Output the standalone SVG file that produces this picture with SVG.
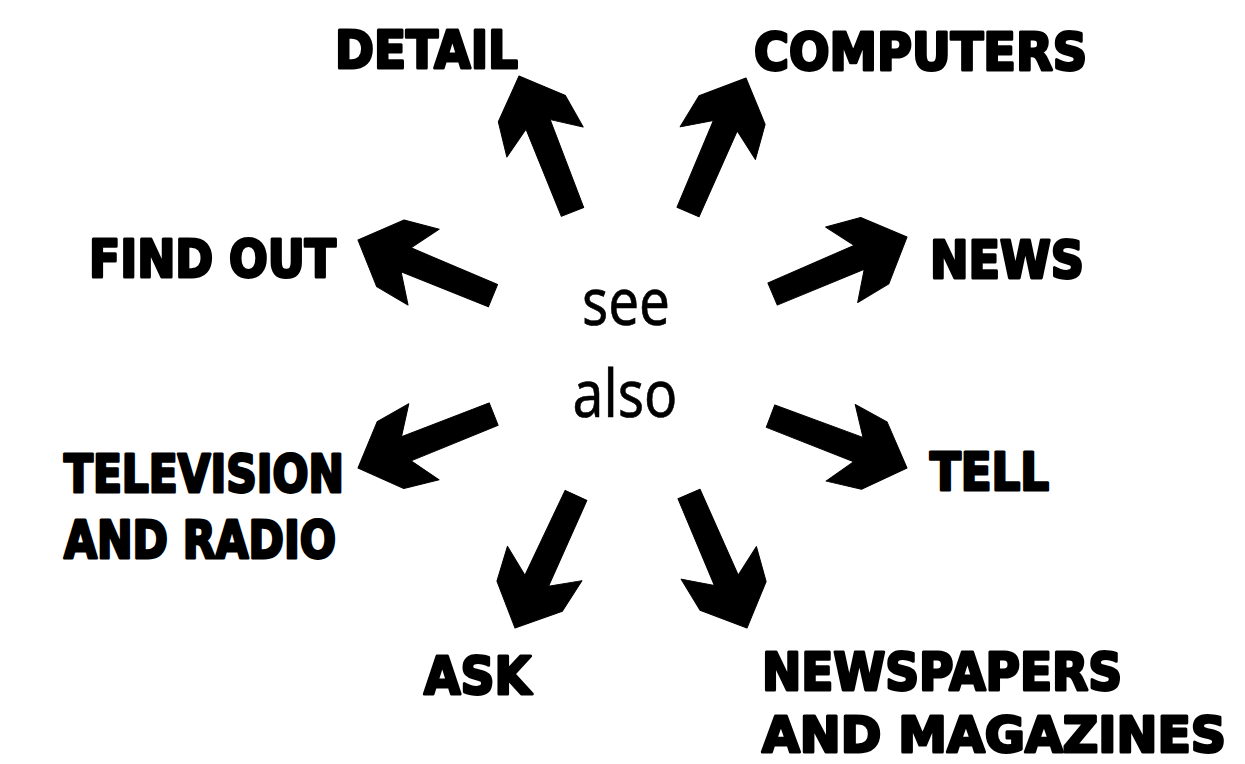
<svg xmlns="http://www.w3.org/2000/svg" xmlns:xlink="http://www.w3.org/1999/xlink" width="1245" height="764" viewBox="0 0 1245 764">
  <style>
    .lbl { font-family: "DejaVu Sans", "Liberation Sans", sans-serif; font-weight: bold; font-size: 51px; fill: #000; stroke: #000; stroke-width: 3; stroke-linejoin: round; }
    .center { font-family: "Noto Sans", "Open Sans", sans-serif; font-size: 66px; fill: #000; stroke: #000; stroke-width: 0.6; text-anchor: middle; }
    .arrow { fill: #000; stroke: #000; stroke-width: 1; stroke-linejoin: round; }
  </style>
  <defs>
    <polygon id="arr" class="arrow" points="0,0 -35,36 -71,41 -52,13 -146,12 -146,-12 -52,-13 -71,-41 -35,-36"/>
  </defs>
  <rect width="1245" height="764" fill="#fff"/>

  <g id="connectors">
    <use xlink:href="#arr" href="#arr" transform="translate(519,76) rotate(-111.5)"/>
    <use xlink:href="#arr" href="#arr" transform="translate(746,78) rotate(-66.6)"/>
    <use xlink:href="#arr" href="#arr" transform="translate(907,237) rotate(-23)"/>
    <use xlink:href="#arr" href="#arr" transform="translate(907,468) rotate(20.8)"/>
    <use xlink:href="#arr" href="#arr" transform="translate(358,468) rotate(158.3)"/>
    <use xlink:href="#arr" href="#arr" transform="translate(358,240) rotate(-157.6)"/>
    <use xlink:href="#arr" href="#arr" transform="translate(515,628) rotate(114.7)"/>
    <use xlink:href="#arr" href="#arr" transform="translate(747,628) rotate(66.6)"/>
  </g>

  <g id="center">
    <text class="center" x="626" y="325" textLength="88" lengthAdjust="spacingAndGlyphs">see</text>
    <text class="center" x="625" y="417" textLength="105" lengthAdjust="spacingAndGlyphs">also</text>
  </g>

  <g id="detail"><text class="lbl" x="335" y="68" textLength="183" lengthAdjust="spacingAndGlyphs">DETAIL</text></g>
  <g id="computers"><text class="lbl" x="754" y="70" textLength="333" lengthAdjust="spacingAndGlyphs">COMPUTERS</text></g>
  <g id="find-out"><text class="lbl" x="89" y="277" textLength="247" lengthAdjust="spacingAndGlyphs">FIND OUT</text></g>
  <g id="news"><text class="lbl" x="930" y="278" textLength="154" lengthAdjust="spacingAndGlyphs">NEWS</text></g>
  <g id="television-and-radio">
    <text class="lbl" x="64" y="492" textLength="280" lengthAdjust="spacingAndGlyphs">TELEVISION</text>
    <text class="lbl" x="64" y="558" textLength="272" lengthAdjust="spacingAndGlyphs">AND RADIO</text>
  </g>
  <g id="tell"><text class="lbl" x="930" y="490" textLength="119" lengthAdjust="spacingAndGlyphs">TELL</text></g>
  <g id="ask"><text class="lbl" x="424" y="694" textLength="107" lengthAdjust="spacingAndGlyphs">ASK</text></g>
  <g id="newspapers-and-magazines">
    <text class="lbl" x="762" y="690" textLength="360" lengthAdjust="spacingAndGlyphs">NEWSPAPERS</text>
    <text class="lbl" x="762" y="752" style="font-size:50px" textLength="464" lengthAdjust="spacingAndGlyphs">AND MAGAZINES</text>
  </g>
</svg>
